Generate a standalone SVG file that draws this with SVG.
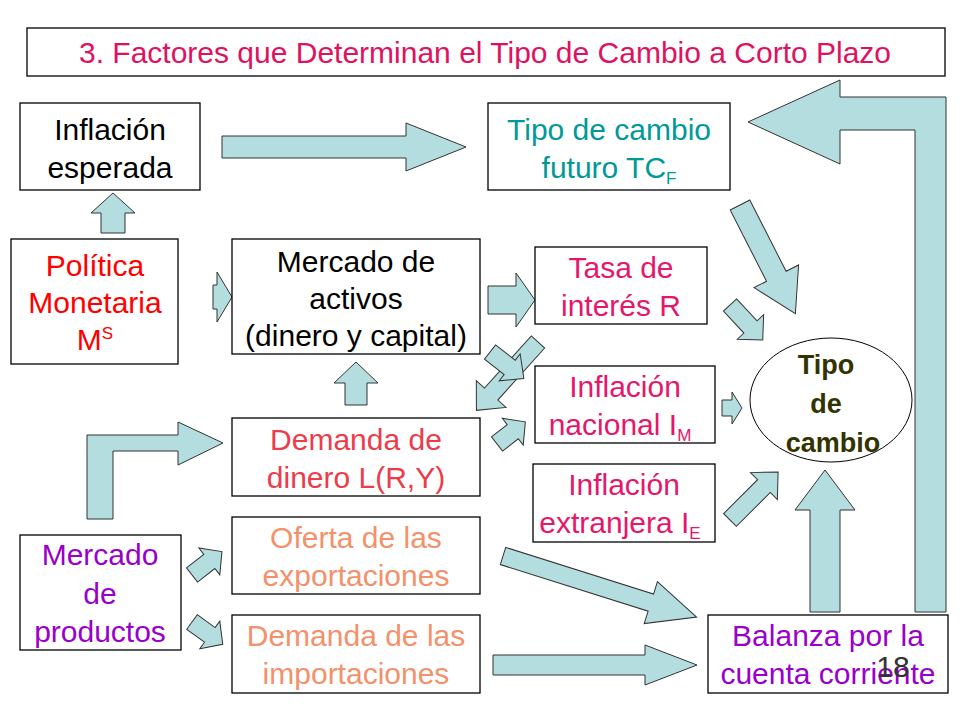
<svg xmlns="http://www.w3.org/2000/svg" width="960" height="720" viewBox="0 0 960 720">
<style>
.box{fill:#fff;stroke:#000;stroke-width:1.3}
.ar{fill:#b4dde0;stroke:#333;stroke-width:1}
text{font-family:"Liberation Sans",Arial,sans-serif;font-size:30px;text-anchor:middle}
.t{font-weight:bold;fill:#333300;font-size:27px}
</style>
<rect width="960" height="720" fill="#fff"/>
<g id="title"><rect class="box" x="27" y="28" width="918" height="48"/><text x="485" y="63" font-size="31" fill="#e0115f">3. Factores que Determinan el Tipo de Cambio a Corto Plazo</text></g>
<g id="connectors">
<polygon class="ar" transform="translate(222,147)" points="0,-11 184,-11 184,-24 244,0 184,24 184,11 0,11"/>
<polygon class="ar" transform="translate(113,233) rotate(-90)" points="0,-12 20,-12 20,-22 40,0 20,22 20,12 0,12"/>
<polygon class="ar" transform="translate(213,297)" points="0,-12 4,-12 4,-25 19,0 4,25 4,12 0,12"/>
<polygon class="ar" transform="translate(488,300)" points="0,-14 28,-14 28,-27 47,0 28,27 28,14 0,14"/>
<polygon class="ar" transform="translate(356,405) rotate(-90)" points="0,-11 22,-11 22,-22 43,0 22,22 22,11 0,11"/>
<polygon class="ar" transform="translate(538,342) rotate(132)" points="0,-9 70,-9 70,-20 92,0 70,20 70,9 0,9"/>
<polygon class="ar" transform="translate(490,352) rotate(38)" points="0,-9 25,-9 25,-17 43,0 25,17 25,9 0,9"/>
<polygon class="ar" transform="translate(497,444) rotate(-38)" points="0,-9 20,-9 20,-17 36,0 20,17 20,9 0,9"/>
<polygon class="ar" transform="translate(730,305) rotate(47)" points="0,-9 30,-9 30,-18 48,0 30,18 30,9 0,9"/>
<polygon class="ar" transform="translate(740,205) rotate(63)" points="0,-11 80,-11 80,-25 122,0 80,25 80,11 0,11"/>
<polygon class="ar" transform="translate(722,408)" points="0,-8 10,-8 10,-16 20,0 10,16 10,8 0,8"/>
<polygon class="ar" transform="translate(730,520) rotate(-45)" points="0,-9 48,-9 48,-19 68,0 48,19 48,9 0,9"/>
<polygon class="ar" transform="translate(825,612) rotate(-90)" points="0,-15 102,-15 102,-30 142,0 102,30 102,15 0,15"/>
<polygon class="ar" points="915,612 946,612 946,97 840,97 840,80 748,122 840,164 840,130 915,130"/>
<polygon class="ar" points="87,519 113,519 113,451 178,451 178,465 223,443 178,422 178,435 87,435"/>
<polygon class="ar" transform="translate(192,575) rotate(-38)" points="0,-9 22,-9 22,-17 38,0 22,17 22,9 0,9"/>
<polygon class="ar" transform="translate(192,622) rotate(36)" points="0,-9 22,-9 22,-17 38,0 22,17 22,9 0,9"/>
<polygon class="ar" transform="translate(503,556) rotate(17.5)" points="0,-9 155,-9 155,-22 203,0 155,22 155,9 0,9"/>
<polygon class="ar" transform="translate(493,665)" points="0,-10 152,-10 152,-20 204,0 152,20 152,10 0,10"/>
</g>
<g id="inflacion_esperada"><rect class="box" x="20" y="103" width="180" height="87"/><text x="110" y="140">Inflación</text><text x="110" y="178">esperada</text></g>
<g id="tipo_futuro"><rect class="box" x="488" y="103" width="242" height="87"/><text x="609" y="140" fill="#009999">Tipo de cambio</text><text x="609" y="178" fill="#009999">futuro TC<tspan font-size="17" dy="6">F</tspan></text></g>
<g id="politica"><rect class="box" x="11" y="239" width="167" height="125"/><text x="95" y="276" fill="#ff0000">Política</text><text x="95" y="313" fill="#ff0000">Monetaria</text><text x="95" y="350" fill="#ff0000">M<tspan font-size="17" dy="-11">S</tspan></text></g>
<g id="mercado_activos"><rect class="box" x="232" y="239" width="248" height="115"/><text x="356" y="272">Mercado de</text><text x="356" y="309">activos</text><text x="356" y="346">(dinero y capital)</text></g>
<g id="tasa"><rect class="box" x="535" y="247" width="172" height="77"/><text x="621" y="278" fill="#e6176b">Tasa de</text><text x="621" y="316" fill="#e6176b">interés  R</text></g>
<g id="inflacion_nacional"><rect class="box" x="535" y="366" width="180" height="77"/><text x="625" y="397" fill="#e6176b">Inflación</text><text x="620" y="435" fill="#e6176b">nacional I<tspan font-size="17" dy="6">M</tspan></text></g>
<g id="inflacion_extranjera"><rect class="box" x="533" y="464" width="182" height="78"/><text x="624" y="495" fill="#e6176b">Inflación</text><text x="620" y="533" fill="#e6176b">extranjera I<tspan font-size="17" dy="6">E</tspan></text></g>
<g id="demanda_dinero"><rect class="box" x="232" y="418" width="248" height="78"/><text x="356" y="450" fill="#ee3b4a">Demanda de</text><text x="356" y="488" fill="#ee3b4a">dinero L(R,Y)</text></g>
<g id="oferta_export"><rect class="box" x="232" y="517" width="248" height="77"/><text x="356" y="548" fill="#f4906a">Oferta de las</text><text x="356" y="586" fill="#f4906a">exportaciones</text></g>
<g id="demanda_import"><rect class="box" x="232" y="615" width="248" height="78"/><text x="356" y="646" fill="#f4906a">Demanda de las</text><text x="356" y="684" fill="#f4906a">importaciones</text></g>
<g id="mercado_productos"><rect class="box" x="20" y="535" width="161" height="115"/><text x="100" y="565" fill="#9900cc">Mercado</text><text x="100" y="604" fill="#9900cc">de</text><text x="100" y="642" fill="#9900cc">productos</text></g>
<g id="balanza"><rect class="box" x="708" y="615" width="240" height="78"/><text x="828" y="646" fill="#9900cc">Balanza por la</text><text x="828" y="684" fill="#9900cc">cuenta corriente</text></g>
<g id="tipo_cambio"><ellipse cx="831" cy="400" rx="81" ry="62" fill="#fff" stroke="#000" stroke-width="1"/><text class="t" x="826" y="374">Tipo</text><text class="t" x="826" y="413">de</text><text class="t" x="833" y="452">cambio</text></g>
<text x="893" y="677" font-size="15" fill="#333">18</text>
</svg>
